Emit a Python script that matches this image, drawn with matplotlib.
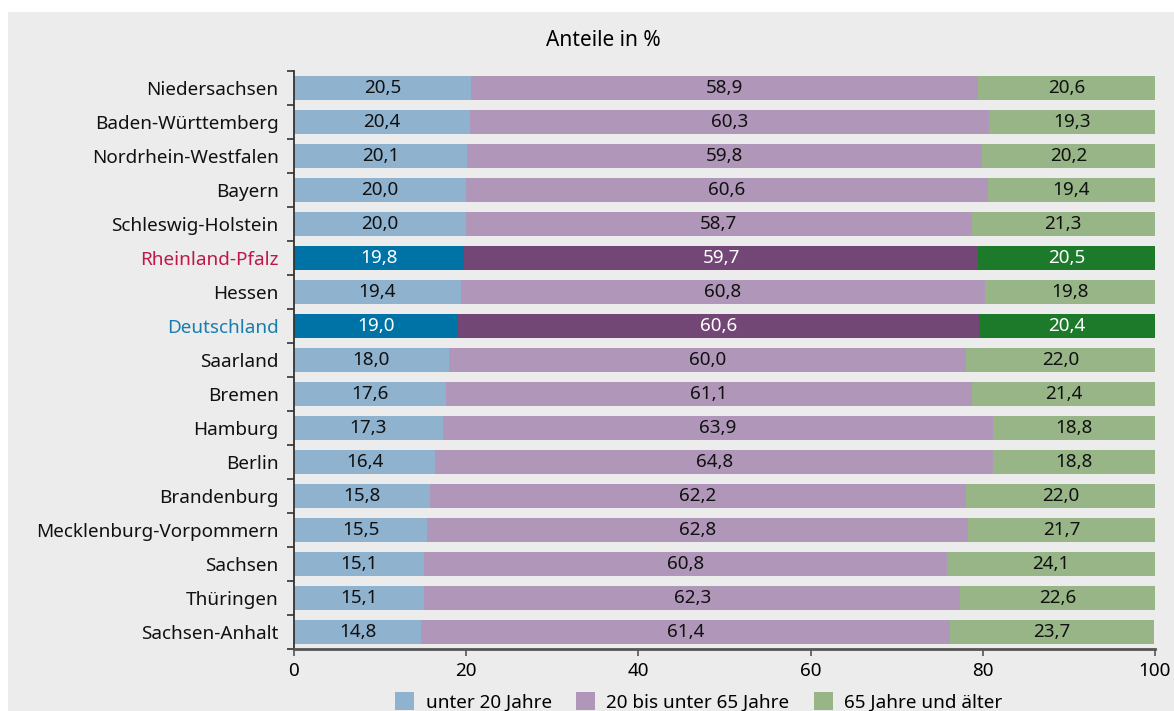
import numpy as np
import matplotlib; matplotlib.use("Agg"); import matplotlib.pyplot as plt
from matplotlib.patches import Rectangle

plt.rcParams['font.family'] = ['Noto Sans', 'DejaVu Sans']

laender = ["Niedersachsen", "Baden-Württemberg", "Nordrhein-Westfalen", "Bayern",
           "Schleswig-Holstein", "Rheinland-Pfalz", "Hessen", "Deutschland", "Saarland",
           "Bremen", "Hamburg", "Berlin", "Brandenburg", "Mecklenburg-Vorpommern",
           "Sachsen", "Thüringen", "Sachsen-Anhalt"]
unter20 = [20.5, 20.4, 20.1, 20.0, 20.0, 19.8, 19.4, 19.0, 18.0, 17.6, 17.3, 16.4, 15.8, 15.5, 15.1, 15.1, 14.8]
mitte = [58.9, 60.3, 59.8, 60.6, 58.7, 59.7, 60.8, 60.6, 60.0, 61.1, 63.9, 64.8, 62.2, 62.8, 60.8, 62.3, 61.4]
ab65 = [20.6, 19.3, 20.2, 19.4, 21.3, 20.5, 19.8, 20.4, 22.0, 21.4, 18.8, 18.8, 22.0, 21.7, 24.1, 22.6, 23.7]
serien = ["unter 20 Jahre", "20 bis unter 65 Jahre", "65 Jahre und älter"]

hell = ["#8fb2cf", "#b097b9", "#97b587"]
dunkel = ["#0073a6", "#724675", "#1e7a2b"]
highlight = {"Rheinland-Pfalz": "#c0174a", "Deutschland": "#1a7db0"}
BG = "#ebeceb"
FS = 13.6

fig = plt.figure(figsize=(11.74, 7.11), dpi=100)
fig.patch.set_facecolor("white")
fig.patches.append(Rectangle((8/1174, 0), 1, 1 - 12/711, transform=fig.transFigure,
                             facecolor=BG, edgecolor="none", zorder=-10))
ax = fig.add_axes([294/1174, 1 - 649/711, (1155-294)/1174, (649-71)/711])
ax.set_facecolor(BG)

y = np.arange(len(laender))
left = np.zeros(len(laender))
for k, vals in enumerate([unter20, mitte, ab65]):
    vals = np.array(vals)
    cols = [dunkel[k] if l in highlight else hell[k] for l in laender]
    ax.barh(y, vals, left=left, height=0.68, color=cols, label=serien[k])
    for i, v in enumerate(vals):
        tc = "white" if laender[i] in highlight else "#111111"
        ax.text(left[i] + v/2, y[i], f"{v:.1f}".replace(".", ","), ha="center", va="center",
                fontsize=FS, color=tc)
    left += vals

ax.set_ylim(len(laender) - 0.5, -0.5)
ax.set_xlim(0, 100)
ax.set_yticks(y)
ax.set_yticklabels(laender, fontsize=FS)
ax.set_yticks(np.arange(-0.5, len(laender)), minor=True)
ax.tick_params(axis="y", which="major", length=0, pad=11)
ax.tick_params(axis="y", which="minor", length=5, width=1.2, color="#333333")
ax.set_xticks([0, 20, 40, 60, 80, 100])
ax.tick_params(axis="x", length=5, width=1.2, color="#555555", labelsize=FS, pad=4)
for lab in ax.get_yticklabels():
    lab.set_color(highlight.get(lab.get_text(), "#111111"))
for s in ["top", "right"]:
    ax.spines[s].set_visible(False)
ax.spines["left"].set_color("#333333"); ax.spines["left"].set_linewidth(1.3)
ax.spines["bottom"].set_color("#555555"); ax.spines["bottom"].set_linewidth(2)

fig.text(603/1174, 1 - 40/711, "Anteile in %", ha="center", va="center", fontsize=15)

leg = fig.legend(loc="center", bbox_to_anchor=(699/1174, 1 - 702/711), ncol=3, frameon=False,
                 fontsize=FS, handlelength=1.0, handleheight=1.1, columnspacing=1.3, handletextpad=0.6)

fig.savefig("out.png", dpi=100, facecolor=fig.get_facecolor())
